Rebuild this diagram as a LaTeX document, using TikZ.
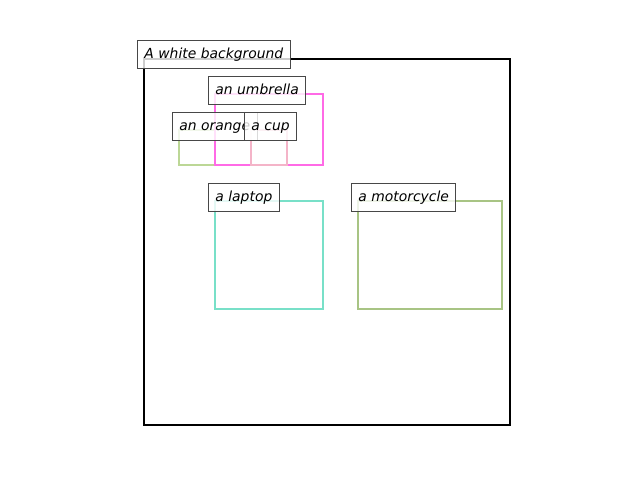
\documentclass[tikz,border=0pt]{standalone}
\usepackage{fontspec}
\setmainfont{DejaVu Sans}
\begin{document}
\begin{tikzpicture}[x=0.72pt,y=-0.72pt,
  frame/.style={line width=1.44pt},
  bbox/.style={line width=1.6pt},
  lbl/.style={draw=black!72, line width=0.72pt, fill=white, fill opacity=0.8, text opacity=1,
    anchor=west, inner xsep=5pt, inner ysep=0pt, minimum height=20.16pt,
    text height=7.9pt, text depth=1.6pt,
    font=\fontsize{10}{12}\selectfont\itshape}]
  \definecolor{cOrange}{HTML}{BCD796}
  \definecolor{cUmbrella}{HTML}{FF6AE6}
  \definecolor{cCup}{HTML}{F4B4C8}
  \definecolor{cLaptop}{HTML}{78E0C8}
  \definecolor{cMoto}{HTML}{A8C484}
  \useasboundingbox (0,0) rectangle (640,480);
  % scene frame
  \draw[frame] (144,59) rectangle (510,425);
  % object boxes
  \draw[bbox, draw=cOrange] (179,130) rectangle (215,165);
  \draw[bbox, draw=cUmbrella] (215,94) rectangle (323,165);
  \draw[bbox, draw=cCup] (251,130) rectangle (287,165);
  \draw[bbox, draw=cLaptop] (215,201) rectangle (323,309);
  \draw[bbox, draw=cMoto] (358,201) rectangle (502,309);
  % labels
  \node[lbl] (bg) at (137,54) {A white background};
  \node[lbl] (umbrella) at (208,90) {an umbrella};
  \node[lbl] (orange) at (172,126) {an orange};
  \node[lbl] (cup) at (244,126) {a cup};
  \node[lbl] (laptop) at (208,197) {a laptop};
  \node[lbl] (moto) at (351,197) {a motorcycle};
\end{tikzpicture}
\end{document}
